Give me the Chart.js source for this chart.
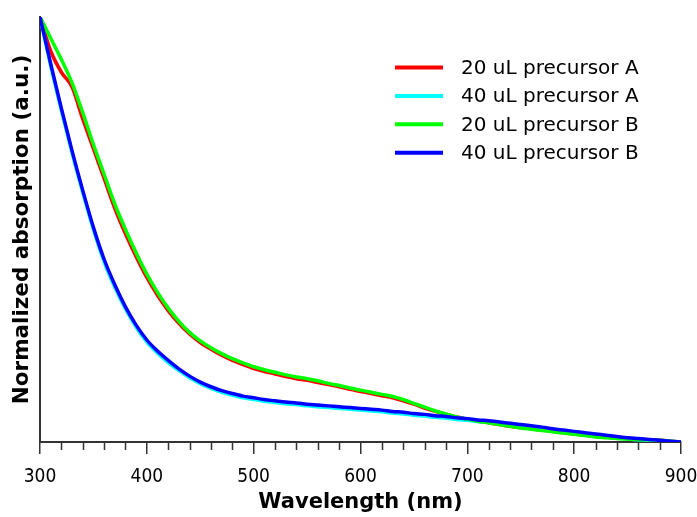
<!DOCTYPE html>
<html>
<head>
<meta charset="utf-8">
<script src="https://cdn.jsdelivr.net/npm/chart.js@4.4.1/dist/chart.umd.min.js"></script>
<style>
  html, body { margin: 0; padding: 0; background: #fff; }
  #wrap { width: 697px; height: 517px; }
</style>
</head>
<body>
<div id="wrap"><canvas id="absChart" width="697" height="517"></canvas></div>
<script>
// wavelength grid (nm), values every 10 nm
const wavelengths = [300, 310, 320, 330, 340, 350, 360, 370, 380, 390,
    400, 410, 420, 430, 440, 450, 460, 470, 480, 490,
    500, 510, 520, 530, 540, 550, 560, 570, 580, 590,
    600, 610, 620, 630, 640, 650, 660, 670, 680, 690,
    700, 710, 720, 730, 740, 750, 760, 770, 780, 790,
    800, 810, 820, 830, 840, 850, 860, 870, 880, 890, 900];

const precursorA20 = [1.0, 0.92, 0.87, 0.835, 0.76, 0.69, 0.62, 0.55, 0.49, 0.436,
    0.387, 0.345, 0.309, 0.279, 0.254, 0.234, 0.218, 0.204, 0.192, 0.182,
    0.173, 0.166, 0.160, 0.154, 0.149, 0.145, 0.140, 0.135, 0.130, 0.124,
    0.119, 0.114, 0.109, 0.104, 0.097, 0.089, 0.080, 0.072, 0.065, 0.059,
    0.054, 0.049, 0.045, 0.041, 0.037, 0.034, 0.031, 0.028, 0.025, 0.022,
    0.019, 0.016, 0.014, 0.012, 0.010, 0.009, 0.007, 0.005, 0.004, 0.002, 0.0];

const precursorA40 = [1.0, 0.885, 0.78, 0.68, 0.587, 0.5, 0.424, 0.364, 0.313, 0.27,
    0.235, 0.209, 0.187, 0.168, 0.151, 0.137, 0.126, 0.117, 0.110, 0.104,
    0.100, 0.096, 0.093, 0.090, 0.088, 0.085, 0.083, 0.081, 0.079, 0.077,
    0.075, 0.073, 0.071, 0.068, 0.066, 0.063, 0.061, 0.058, 0.056, 0.053,
    0.051, 0.048, 0.046, 0.043, 0.040, 0.037, 0.034, 0.031, 0.027, 0.024,
    0.021, 0.018, 0.015, 0.012, 0.010, 0.007, 0.005, 0.004, 0.002, 0.001, 0.0];

const precursorB20 = [1.0, 0.95, 0.9, 0.845, 0.775, 0.70, 0.63, 0.56, 0.50, 0.445,
    0.395, 0.352, 0.315, 0.284, 0.258, 0.238, 0.222, 0.208, 0.196, 0.186,
    0.177, 0.170, 0.164, 0.158, 0.153, 0.149, 0.144, 0.138, 0.133, 0.127,
    0.122, 0.117, 0.112, 0.107, 0.100, 0.091, 0.082, 0.073, 0.066, 0.059,
    0.054, 0.049, 0.045, 0.041, 0.037, 0.033, 0.030, 0.027, 0.024, 0.021,
    0.018, 0.015, 0.012, 0.010, 0.008, 0.007, 0.006, 0.005, 0.004, 0.002, 0.0];

const precursorB40 = [1.0, 0.89, 0.785, 0.685, 0.592, 0.505, 0.43, 0.37, 0.318, 0.275,
    0.24, 0.214, 0.192, 0.172, 0.155, 0.141, 0.130, 0.121, 0.114, 0.108,
    0.104, 0.100, 0.097, 0.094, 0.092, 0.089, 0.087, 0.085, 0.083, 0.081,
    0.079, 0.077, 0.075, 0.072, 0.070, 0.067, 0.065, 0.062, 0.060, 0.057,
    0.055, 0.052, 0.050, 0.047, 0.044, 0.041, 0.038, 0.035, 0.031, 0.028,
    0.025, 0.022, 0.019, 0.016, 0.013, 0.010, 0.008, 0.006, 0.004, 0.002, 0.0];

const minorTicks = [320, 340, 360, 380, 420, 440, 460, 480, 520, 540, 560, 580,
    620, 640, 660, 680, 720, 740, 760, 780, 820, 840, 860, 880];

function toPoints(values) {
    return values.map((v, i) => ({ x: wavelengths[i], y: v }));
}

// small plugin: minor ticks on the x axis + legend inside the plot
const extras = {
    id: 'extras',
    afterDraw(chart) {
        const ctx = chart.ctx;
        const xs = chart.scales.x;
        const bottom = chart.chartArea.bottom;
        ctx.save();
        ctx.strokeStyle = '#333';
        ctx.lineWidth = 1.5;
        minorTicks.forEach(v => {
            const px = Math.round(xs.getPixelForValue(v)) + 0.5;
            ctx.beginPath();
            ctx.moveTo(px, bottom);
            ctx.lineTo(px, bottom + 8);
            ctx.stroke();
        });

        // legend, in dataset order
        ctx.font = '20px "DejaVu Sans", Verdana, sans-serif';
        ctx.fillStyle = '#000';
        ctx.textBaseline = 'middle';
        chart.data.datasets.forEach((ds, i) => {
            const y = 67.5 + i * 28.4;
            ctx.strokeStyle = ds.borderColor;
            ctx.lineWidth = 4;
            ctx.beginPath();
            ctx.moveTo(395, y);
            ctx.lineTo(443, y);
            ctx.stroke();
            ctx.fillText(ds.label, 461, y + 1);
        });
        ctx.restore();
    }
};

new Chart(document.getElementById('absChart'), {
    type: 'line',
    data: {
        datasets: [{
            label: '20 uL precursor A',
            data: toPoints(precursorA20),
            borderColor: '#ff0000',
            order: 3
        }, {
            label: '40 uL precursor A',
            data: toPoints(precursorA40),
            borderColor: '#00ffff',
            order: 2
        }, {
            label: '20 uL precursor B',
            data: toPoints(precursorB20),
            borderColor: '#00ff00',
            order: 1
        }, {
            label: '40 uL precursor B',
            data: toPoints(precursorB40),
            borderColor: '#0000ff',
            order: 0
        }]
    },
    options: {
        responsive: false,
        animation: false,
        layout: { padding: { top: 17, right: 16, left: 0, bottom: 0 } },
        elements: {
            point: { radius: 0 },
            line: { borderWidth: 3.5, tension: 0.4, cubicInterpolationMode: 'monotone', fill: false }
        },
        plugins: {
            legend: { display: false },
            tooltip: { enabled: false }
        },
        scales: {
            x: {
                type: 'linear',
                min: 300,
                max: 900,
                afterFit: s => { s.height = 75; s.paddingLeft = 0; s.paddingRight = 0; },
                ticks: {
                    stepSize: 100,
                    padding: 12,
                    color: '#000',
                    font: { family: '"DejaVu Sans Condensed", "DejaVu Sans", sans-serif', size: 19 }
                },
                grid: {
                    drawOnChartArea: false,
                    drawTicks: true,
                    tickLength: 12,
                    tickColor: '#333',
                    lineWidth: 1.5
                },
                border: { color: '#333', width: 2 },
                title: {
                    display: true,
                    text: 'Wavelength (nm)',
                    color: '#000',
                    padding: { top: 0, bottom: 2 },
                    font: { family: '"DejaVu Sans", Verdana, sans-serif', size: 21, weight: 'bold' }
                }
            },
            y: {
                min: 0,
                max: 1,
                afterFit: s => { s.width = 40; },
                ticks: { display: false },
                grid: { drawOnChartArea: false, drawTicks: false },
                border: { color: '#333', width: 2 },
                title: {
                    display: true,
                    text: 'Normalized absorption (a.u.)',
                    color: '#000',
                    padding: { top: 10, bottom: 0 },
                    font: { family: '"DejaVu Sans", Verdana, sans-serif', size: 21.5, weight: 'bold' }
                }
            }
        }
    },
    plugins: [extras]
});
</script>
</body>
</html>
